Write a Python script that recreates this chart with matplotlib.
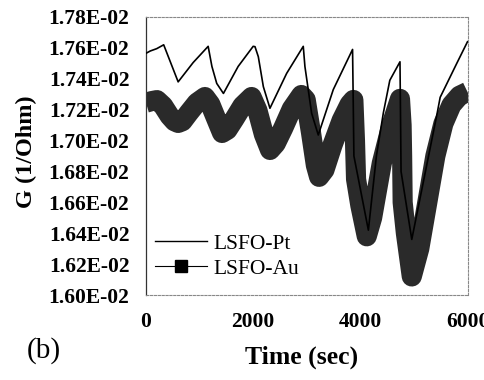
import numpy as np
import matplotlib
matplotlib.use("Agg")
import matplotlib.pyplot as plt
from matplotlib.lines import Line2D
from matplotlib.ticker import FuncFormatter, MultipleLocator

# LSFO-Pt conductance (time in sec, G in units of 1E-02 1/Ohm)
t_pt = [0, 80, 200, 330, 600, 880, 1160, 1230, 1320, 1445, 1720, 2000, 2034,
        2096, 2190, 2313, 2625, 2935, 2966, 3091, 3215, 3495, 3855, 3880,
        4150, 4300, 4430, 4550, 4740, 4760, 4960, 5430, 5490, 5800, 6000]
g_pt = [1.7565, 1.758, 1.7595, 1.762, 1.738, 1.7505, 1.761, 1.748, 1.737,
        1.7305, 1.748, 1.761, 1.7608, 1.7543, 1.7349, 1.7209, 1.7435, 1.761,
        1.7479, 1.7177, 1.7036, 1.733, 1.759, 1.69, 1.642, 1.690, 1.718,
        1.739, 1.751, 1.68, 1.636, 1.717, 1.728, 1.750, 1.764]

# LSFO-Au conductance
t_au = [0, 100, 205, 320, 440, 530, 600, 680, 800, 950, 1100, 1200, 1300,
        1420, 1520, 1650, 1800, 1970, 2080, 2200, 2315, 2420, 2560, 2720,
        2900, 2980, 3080, 3170, 3230, 3330, 3480, 3650, 3800, 3870, 3900,
        3920, 4000, 4120, 4220, 4400, 4580, 4740, 4770, 4780, 4790, 4850,
        4960, 5100, 5250, 5400, 5550, 5700, 5850, 6000]
g_au = [1.7245, 1.7255, 1.7262, 1.7225, 1.716, 1.7125, 1.7114, 1.7125, 1.718,
        1.7245, 1.7282, 1.7235, 1.715, 1.7049, 1.707, 1.714, 1.7225, 1.7282,
        1.7195, 1.704, 1.6939, 1.698, 1.708, 1.7205, 1.7295, 1.7265, 1.705,
        1.684, 1.6765, 1.681, 1.697, 1.713, 1.7235, 1.7263, 1.70, 1.675,
        1.658, 1.638, 1.650, 1.6853, 1.710, 1.727, 1.71, 1.69, 1.66, 1.64,
        1.612, 1.630, 1.660, 1.690, 1.711, 1.723, 1.729, 1.7315]

series_names = ["LSFO-Pt", "LSFO-Au"]
x_ticks = [0, 2000, 4000, 6000]

serif = ["Liberation Serif", "DejaVu Serif"]
plt.rcParams["font.family"] = serif

fig = plt.figure(figsize=(4.84, 3.80), dpi=100)
ax = fig.add_axes([146 / 484, 85 / 380, 321.5 / 484, 278 / 380])

g_au_arr = np.array(g_au) * 1e-2
g_pt_arr = np.array(g_pt) * 1e-2

ax.plot(t_au, g_au_arr, color="#2a2a2a", lw=14.5, solid_joinstyle="round",
        solid_capstyle="butt", zorder=2)
ax.plot(t_pt, g_pt_arr, color="black", lw=1.2, zorder=3)

ax.set_xlim(0, 6000)
ax.set_ylim(0.0160, 0.0178)
ax.set_xticks(x_ticks)
ax.yaxis.set_major_locator(MultipleLocator(0.0002))
ax.yaxis.set_major_formatter(FuncFormatter(lambda v, p: f"{v:.2E}"))
ax.tick_params(length=0, labelsize=15.5, pad=12)
for lab in ax.get_xticklabels() + ax.get_yticklabels():
    lab.set_fontweight("bold")

ax.spines["left"].set_color("#333333")
ax.spines["left"].set_linewidth(0.9)
for side in ["top", "bottom", "right"]:
    ax.spines[side].set_color("#888888")
    ax.spines[side].set_linewidth(0.8)
    ax.spines[side].set_linestyle((0, (2, 1.5)))

handles = [
    Line2D([], [], color="black", lw=1.0),
    Line2D([], [], color="black", lw=0.8, marker="s", markersize=8.5),
]
ax.legend(handles, series_names, loc="lower left", bbox_to_anchor=(0.028, 0.059),
          frameon=False, fontsize=15.5, handlelength=2.42, handletextpad=0.28,
          labelspacing=0.21, borderpad=0, borderaxespad=0)

fig.text(26 / 484, 1 - 152 / 380, "G (1/Ohm)", rotation=90, ha="center",
         va="center", fontsize=17.5, fontweight="bold")
fig.text(302 / 484, 1 - 357 / 380, "Time (sec)", ha="center", va="center",
         fontsize=18.5, fontweight="bold")
fig.text(44 / 484, 1 - 351 / 380, "(b)", ha="center", va="center", fontsize=21)

fig.savefig("out.png", dpi=100)
